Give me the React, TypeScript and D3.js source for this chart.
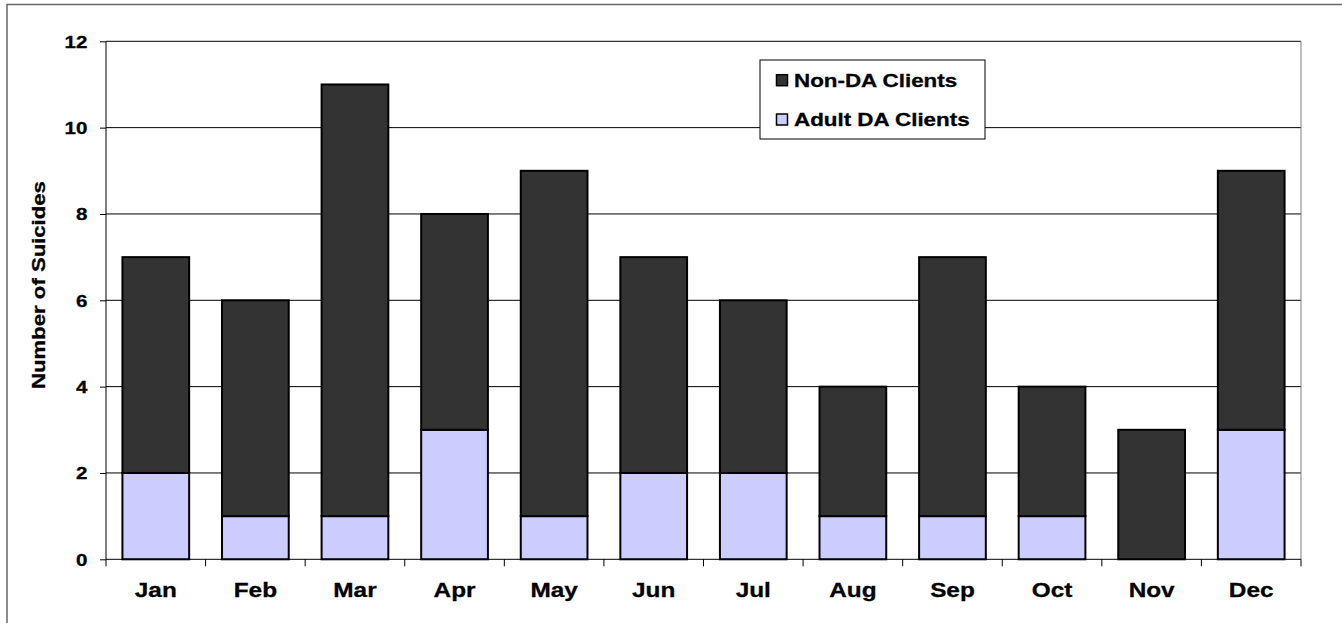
import { useEffect, useRef } from 'react';
import * as d3 from 'd3';

const months = ['Jan', 'Feb', 'Mar', 'Apr', 'May', 'Jun', 'Jul', 'Aug', 'Sep', 'Oct', 'Nov', 'Dec'];
const adultDA = [2, 1, 1, 3, 1, 2, 2, 1, 1, 1, 0, 3];
const nonDA = [5, 5, 10, 5, 8, 5, 4, 3, 6, 3, 3, 6];
const yTicks = [0, 2, 4, 6, 8, 10, 12];

const seriesNames = ['Non-DA Clients', 'Adult DA Clients'];
const seriesColors = ['#333333', '#ccccff'];

const FONT = 'Arial, "Liberation Sans", sans-serif';

// bold text, stretched horizontally (the original text is drawn wide)
function wideText(parent: any, x: number, y: number, txt: string, size: number, anchor = 'start', rotate = 0, stretch = 1.21) {
  const gg = parent.append('g')
    .attr('transform', `translate(${x},${y}) rotate(${rotate}) scale(${stretch},1)`);
  gg.append('text')
    .attr('text-anchor', anchor)
    .style('font-family', FONT)
    .style('font-size', `${size}px`)
    .style('font-weight', 'bold')
    .attr('fill', '#000')
    .attr('stroke', '#000')
    .attr('stroke-width', 0.3)
    .text(txt);
  return gg;
}

export default function App() {
  const svgRef = useRef<SVGSVGElement | null>(null);
  const width = 1342;
  const height = 623;

  useEffect(() => {
    if (!svgRef.current) return;
    const svg = d3.select(svgRef.current);
    svg.selectAll('*').remove();

    const margin = { top: 41.3, right: 41, bottom: 63.7, left: 106 };
    const chartWidth = width - margin.left - margin.right;
    const chartHeight = height - margin.top - margin.bottom;

    // outer frame
    svg.append('rect')
      .attr('x', 7).attr('y', 4.5)
      .attr('width', width).attr('height', height)
      .attr('fill', 'white')
      .attr('stroke', '#666').attr('stroke-width', 1.5);

    const g = svg.append('g').attr('transform', `translate(${margin.left},${margin.top})`);

    const x = d3.scaleBand().domain(months).range([0, chartWidth]).paddingInner(0.33).paddingOuter(0.165);
    const y = d3.scaleLinear().domain([0, 12]).range([chartHeight, 0]);

    // gridlines
    g.append('g')
      .selectAll('line')
      .data(yTicks.filter(t => t > 0))
      .enter().append('line')
      .attr('x1', 0).attr('x2', chartWidth)
      .attr('y1', d => y(d)).attr('y2', d => y(d))
      .attr('stroke', '#000').attr('stroke-width', 1);

    // right plot border
    g.append('line')
      .attr('x1', chartWidth).attr('x2', chartWidth)
      .attr('y1', 0).attr('y2', chartHeight)
      .attr('stroke', '#808080').attr('stroke-width', 1);

    // bars
    const stackData = months.map((m, i) => ({ month: m, adult: adultDA[i], non: nonDA[i] }));
    const stack = d3.stack<any>().keys(['adult', 'non'])(stackData);
    const colorFor: Record<string, string> = { adult: seriesColors[1], non: seriesColors[0] };

    stack.forEach(layer => {
      g.append('g')
        .selectAll('rect')
        .data(layer.filter(d => d[1] - d[0] > 0))
        .enter().append('rect')
        .attr('x', d => x(d.data.month) as number)
        .attr('width', x.bandwidth())
        .attr('y', d => y(d[1]))
        .attr('height', d => y(d[0]) - y(d[1]))
        .attr('fill', colorFor[layer.key])
        .attr('stroke', '#000')
        .attr('stroke-width', 2);
    });

    // y axis
    const yAxis = g.append('g')
      .call(d3.axisLeft(y).tickValues(yTicks).tickSize(6).tickFormat(() => ''));
    yAxis.select('.domain').attr('stroke', '#000').attr('d', `M0,0V${chartHeight}`);
    yTicks.forEach(t => wideText(g, -18.5, y(t) + 6.3, String(t), 17, 'end'));

    // x axis
    const xAxis = g.append('g').attr('transform', `translate(0,${chartHeight})`);
    xAxis.append('line')
      .attr('x1', 0).attr('x2', chartWidth).attr('y1', 0).attr('y2', 0)
      .attr('stroke', '#000').attr('stroke-width', 1);
    const step = x.step();
    d3.range(months.length + 1).forEach(i => {
      xAxis.append('line')
        .attr('x1', i * step).attr('x2', i * step)
        .attr('y1', 0).attr('y2', 7)
        .attr('stroke', '#000');
    });
    months.forEach(m => wideText(xAxis, (x(m) as number) + x.bandwidth() / 2, 38, m, 21, 'middle', 0, 1.16));

    // y title
    wideText(svg, 45, 285, 'Number of Suicides', 18.3, 'middle', -90);

    // legend
    const legend = svg.append('g').attr('transform', 'translate(760,60)');
    legend.append('rect')
      .attr('width', 225).attr('height', 79)
      .attr('fill', 'white').attr('stroke', '#000').attr('stroke-width', 1);
    seriesNames.forEach((name, i) => {
      const base = 26.7 + i * 39.3;
      legend.append('rect')
        .attr('x', 16.5).attr('y', base - 12)
        .attr('width', 11).attr('height', 11)
        .attr('fill', seriesColors[i]).attr('stroke', '#000').attr('stroke-width', 1.5);
      wideText(legend, 34, base, name, 18.5);
    });
  }, []);

  return (
    <div style={{ position: 'fixed', left: 0, top: 0 }}>
      <svg ref={svgRef} width={width} height={height} style={{ display: 'block' }}></svg>
    </div>
  );
}
